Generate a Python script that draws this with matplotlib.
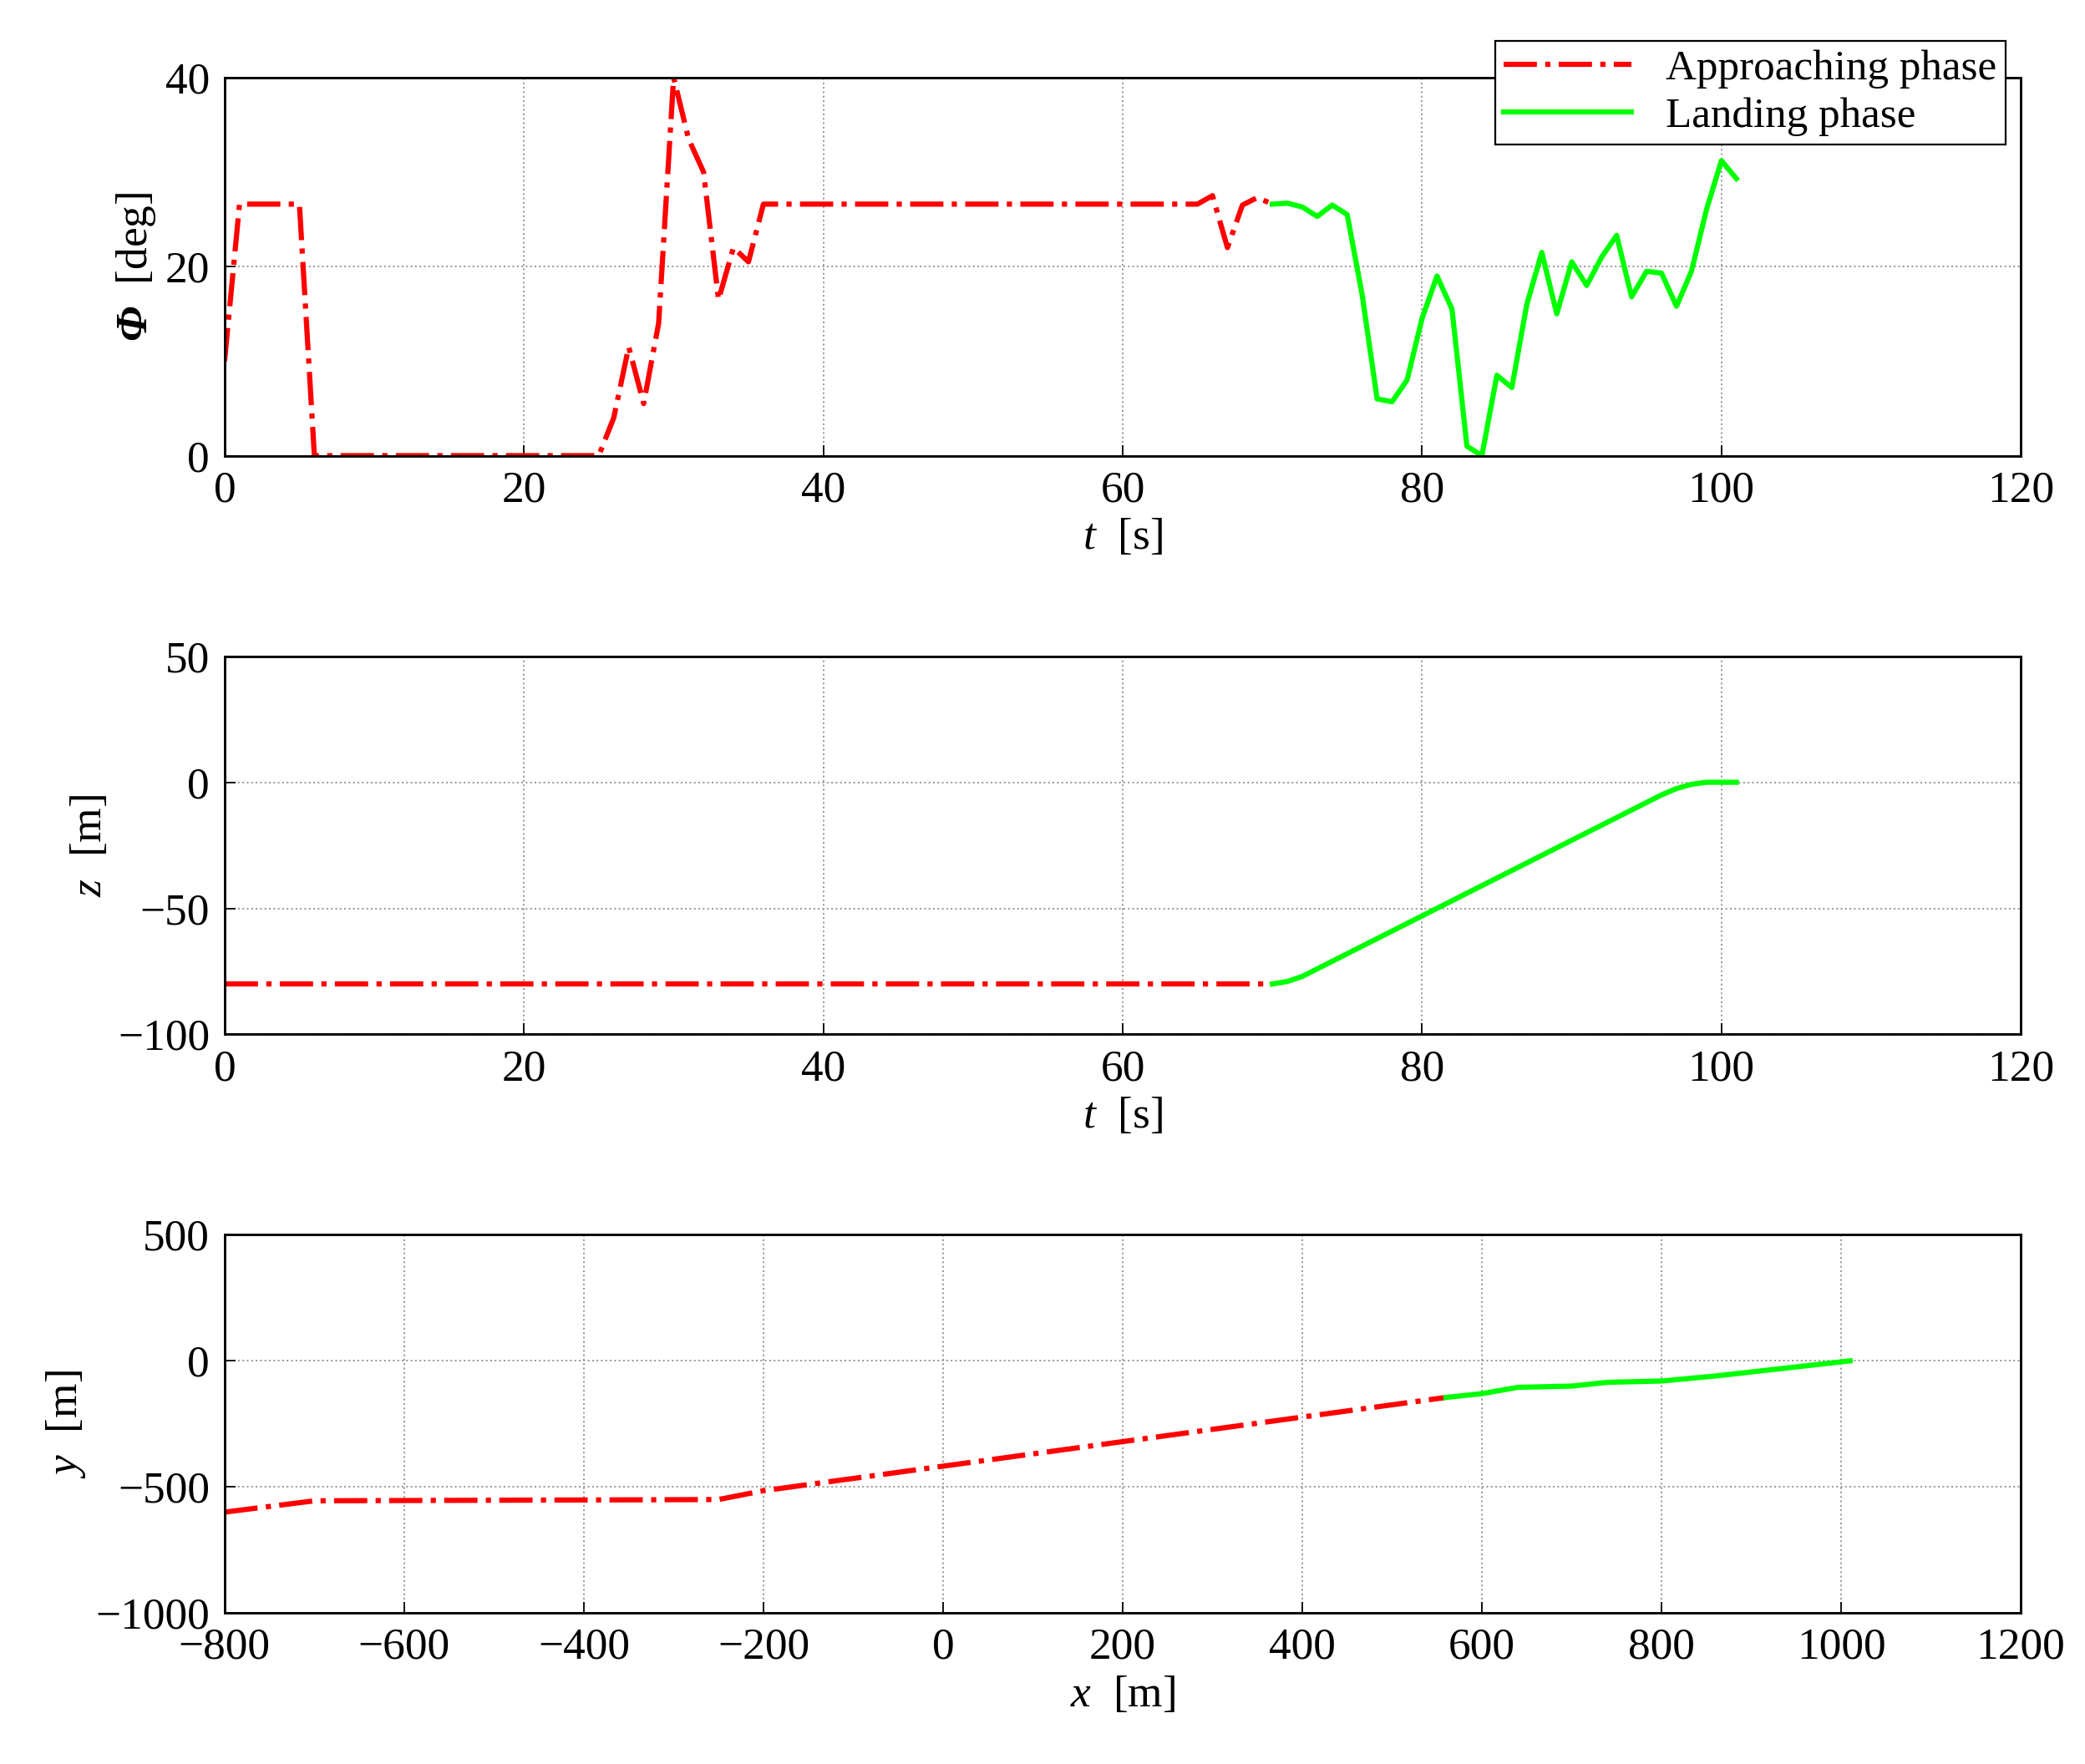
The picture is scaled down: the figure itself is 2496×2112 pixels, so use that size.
import matplotlib
matplotlib.use("Agg")
import matplotlib.pyplot as plt

plt.rcParams['font.family'] = ['Liberation Serif', 'DejaVu Serif']
plt.rcParams['mathtext.fontset'] = 'custom'
plt.rcParams['mathtext.rm'] = 'Liberation Serif'
plt.rcParams['mathtext.it'] = 'Liberation Serif:italic'
plt.rcParams['mathtext.bf'] = 'Liberation Serif:bold:italic'
plt.rcParams['font.size'] = 24

t_app = list(range(0, 71))
phi_app = [10, 26.6, 26.6, 26.6, 26.6, 26.6, 0] + [0]*19 + [4, 11.5, 5.5, 14, 40, 33.5, 30, 16.5, 22, 20.5] + [26.6]*30 + [27.5, 22, 26.5, 27.3, 26.6]
t_land = list(range(70, 102))
phi_land = [26.6, 26.7, 26.3, 25.3, 26.5, 25.5, 17, 6, 5.7, 8, 14.5, 19, 15.5, 1, 0, 8.5, 7.2, 16, 21.5, 15,
            20.5, 18, 21, 23.3, 16.8, 19.5, 19.3, 15.8, 19.5, 26, 31.2, 29.3]

z_app = [-80]*71
z_land = [-80, -79, -77, -74, -71, -68, -65, -62, -59, -56, -53, -50, -47, -44, -41, -38, -35, -32, -29, -26,
          -23, -20, -17, -14, -11, -8, -5, -2.5, -0.8, 0, 0, 0]

x_app = [-800, -700, -250, -200, 560]
y_app = [-600, -555, -550, -515, -145]
x_land = [560, 600, 640, 700, 740, 800, 860, 1010]
y_land = [-145, -130, -105, -100, -85, -80, -60, 0]

fig = plt.figure(figsize=(15.6, 13.2), dpi=160)
L, W, H = 0.1077, 0.8615, 0.2144
ax1 = fig.add_axes([L, 0.7417, W, H])
ax2 = fig.add_axes([L, 0.4136, W, H])
ax3 = fig.add_axes([L, 0.0856, W, H])

red = dict(color='#ff0000', ls='-.', lw=2.8, label='Approaching phase')
grn = dict(color='#00ff00', ls='-', lw=2.8, label='Landing phase')

ax1.plot(t_app, phi_app, **red)
ax1.plot(t_land, phi_land, **grn)
ax1.set_xlim(0, 120); ax1.set_ylim(0, 40)
ax1.set_yticks([0, 20, 40])
ax1.set_xlabel(r'$\mathit{t}$  [s]')
ax1.set_ylabel(r'$\mathbf{\Phi}$  [deg]')

ax2.plot(t_app, z_app, **red)
ax2.plot(t_land, z_land, **grn)
ax2.set_xlim(0, 120); ax2.set_ylim(-100, 50)
ax2.set_yticks([-100, -50, 0, 50])
ax2.set_xlabel(r'$\mathit{t}$  [s]')
ax2.set_ylabel(r'$\mathit{z}$  [m]')

ax3.plot(x_app, y_app, **red)
ax3.plot(x_land, y_land, **grn)
ax3.set_xlim(-800, 1200); ax3.set_ylim(-1000, 500)
ax3.set_xticks(range(-800, 1201, 200))
ax3.set_yticks([-1000, -500, 0, 500])
ax3.set_xlabel(r'$\mathit{x}$  [m]')
ax3.set_ylabel(r'$\mathit{y}$  [m]')

for ax in (ax1, ax2, ax3):
    ax.grid(True, ls=':', color='#999999', lw=0.9)
    ax.tick_params(direction='in', length=6, labelsize=24, pad=8)
    for s in ax.spines.values():
        s.set_linewidth(1.3)

h, l = ax1.get_legend_handles_labels()
fig.legend(h, l, loc='upper right', bbox_to_anchor=(0.972, 0.989), fancybox=False,
           edgecolor='black', framealpha=1, fontsize=23, handlelength=3,
           borderpad=0.2, labelspacing=0.2)
fig.savefig('out.png', dpi=160)
